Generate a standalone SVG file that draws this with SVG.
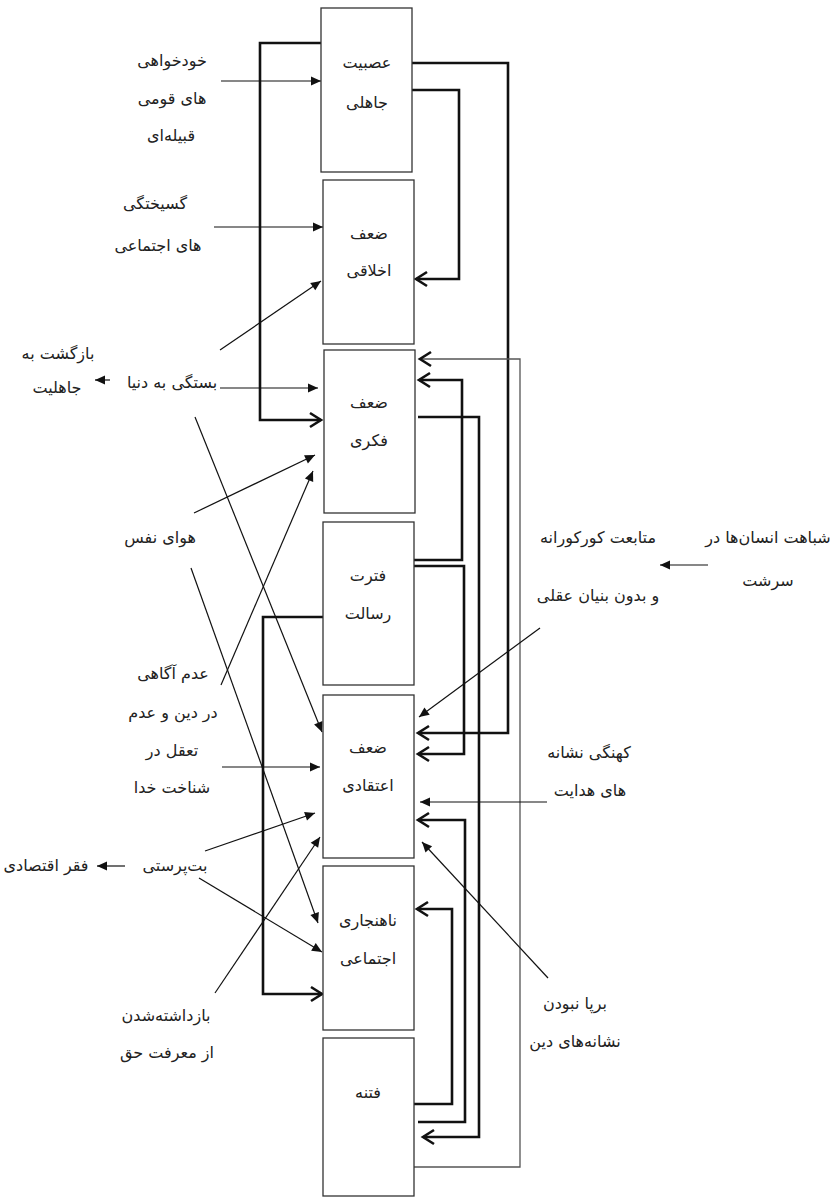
<svg xmlns="http://www.w3.org/2000/svg" width="834" height="1200" viewBox="0 0 834 1200">
<style>
.box{fill:#fff;stroke:#333;stroke-width:1.3}
.t{font-family:"DejaVu Sans",sans-serif;font-size:16px;fill:#222;text-anchor:middle}
.thin{fill:none;stroke:#111;stroke-width:1.2}
.thick{fill:none;stroke:#111;stroke-width:2.6}
.thinr{fill:none;stroke:#555;stroke-width:1.3}
</style>
<defs>
<marker id="tri" markerUnits="userSpaceOnUse" markerWidth="11" markerHeight="9" refX="10" refY="4.5" orient="auto" overflow="visible">
<path d="M0,0 L10,4.5 L0,9 z" fill="#111"/>
</marker>
<marker id="chev" markerUnits="userSpaceOnUse" markerWidth="12" markerHeight="14" refX="11" refY="7" orient="auto" overflow="visible">
<path d="M0,0 L11,7 L0,14" fill="none" stroke="#111" stroke-width="2.6"/>
</marker>
</defs>
<rect width="834" height="1200" fill="#fff"/>

<g id="connectors">
<path class="thick" d="M321,43 H260 V420 H321" marker-end="url(#chev)"/>
<path class="thick" d="M412,63 H508 V733 H418" marker-end="url(#chev)"/>
<path class="thick" d="M412,90 H459 V279 H416" marker-end="url(#chev)"/>
<path class="thick" d="M414,560 H462 V380 H419" marker-end="url(#chev)"/>
<path class="thick" d="M414,566 H464 V754 H418" marker-end="url(#chev)"/>
<path class="thick" d="M418,417 H479 V1137 H423" marker-end="url(#chev)"/>
<path class="thick" d="M418,1122 H465 V820 H418" marker-end="url(#chev)"/>
<path class="thick" d="M414,1104 H452 V909 H417" marker-end="url(#chev)"/>
<path class="thick" d="M323,617 H263 V994 H322" marker-end="url(#chev)"/>
<path class="thinr" d="M414,1167 H520 V359 H420" marker-end="url(#chev)"/>
<line class="thin" x1="221" y1="81" x2="321" y2="81" marker-end="url(#tri)"/>
<line class="thin" x1="214" y1="227" x2="323" y2="227" marker-end="url(#tri)"/>
<line class="thin" x1="220" y1="350" x2="321" y2="281" marker-end="url(#tri)"/>
<line class="thin" x1="220" y1="388" x2="318" y2="388" marker-end="url(#tri)"/>
<line class="thin" x1="110" y1="380" x2="95" y2="380" marker-end="url(#tri)"/>
<line class="thin" x1="195" y1="417" x2="322" y2="732" marker-end="url(#tri)"/>
<line class="thin" x1="194" y1="513" x2="315" y2="455" marker-end="url(#tri)"/>
<line class="thin" x1="191" y1="568" x2="318" y2="923" marker-end="url(#tri)"/>
<line class="thin" x1="221" y1="685" x2="313" y2="471" marker-end="url(#tri)"/>
<line class="thin" x1="222" y1="767" x2="320" y2="767" marker-end="url(#tri)"/>
<line class="thin" x1="125" y1="866" x2="97" y2="866" marker-end="url(#tri)"/>
<line class="thin" x1="205" y1="851" x2="315" y2="813" marker-end="url(#tri)"/>
<line class="thin" x1="199" y1="878" x2="322" y2="952" marker-end="url(#tri)"/>
<line class="thin" x1="215" y1="993" x2="320" y2="837" marker-end="url(#tri)"/>
<line class="thin" x1="708" y1="565" x2="660" y2="565" marker-end="url(#tri)"/>
<line class="thin" x1="540" y1="628" x2="419" y2="717" marker-end="url(#tri)"/>
<line class="thin" x1="547" y1="802" x2="420" y2="802" marker-end="url(#tri)"/>
<line class="thin" x1="548" y1="978" x2="422" y2="842" marker-end="url(#tri)"/>
</g>

<g id="n1"><rect class="box" x="321" y="8" width="91" height="164"/><text class="t" x="367" y="68">عصبیت</text><text class="t" x="367" y="108">جاهلی</text></g>
<g id="n2"><rect class="box" x="323" y="180" width="91" height="164"/><text class="t" x="369" y="239">ضعف</text><text class="t" x="369" y="276">اخلاقی</text></g>
<g id="n3"><rect class="box" x="324" y="350" width="91" height="163"/><text class="t" x="369" y="408">ضعف</text><text class="t" x="369" y="446">فکری</text></g>
<g id="n4"><rect class="box" x="323" y="522" width="91" height="163"/><text class="t" x="368" y="581">فترت</text><text class="t" x="368" y="619">رسالت</text></g>
<g id="n5"><rect class="box" x="323" y="695" width="91" height="163"/><text class="t" x="368" y="753">ضعف</text><text class="t" x="368" y="791">اعتقادی</text></g>
<g id="n6"><rect class="box" x="323" y="866" width="91" height="164"/><text class="t" x="368" y="926">ناهنجاری</text><text class="t" x="368" y="964">اجتماعی</text></g>
<g id="n7"><rect class="box" x="323" y="1038" width="91" height="158"/><text class="t" x="368" y="1098">فتنه</text></g>

<g id="l1"><text class="t" x="172" y="66">خودخواهی</text><text class="t" x="172" y="104">های قومی</text><text class="t" x="171" y="141">قبیله‌ای</text></g>
<g id="l2"><text class="t" x="155" y="209">گسیختگی</text><text class="t" x="158" y="251">های اجتماعی</text></g>
<g id="l3"><text class="t" x="58" y="359">بازگشت به</text><text class="t" x="57" y="393">جاهلیت</text></g>
<g id="l4"><text class="t" x="172" y="388">بستگی به دنیا</text></g>
<g id="l5"><text class="t" x="160" y="543">هوای نفس</text></g>
<g id="l6"><text class="t" x="173" y="679">عدم آگاهی</text><text class="t" x="173" y="718">در دین و عدم</text><text class="t" x="172" y="756">تعقل در</text><text class="t" x="172" y="793">شناخت خدا</text></g>
<g id="l7"><text class="t" x="175" y="871">بت‌پرستی</text></g>
<g id="l8"><text class="t" x="46" y="871">فقر اقتصادی</text></g>
<g id="l9"><text class="t" x="166" y="1021">بازداشته‌شدن</text><text class="t" x="167" y="1058">از معرفت حق</text></g>
<g id="r1"><text class="t" x="598" y="543">متابعت کورکورانه</text><text class="t" x="598" y="601">و بدون بنیان عقلی</text></g>
<g id="r2"><text class="t" x="768" y="543">شباهت انسان‌ها در</text><text class="t" x="768" y="586">سرشت</text></g>
<g id="r3"><text class="t" x="589" y="758">کهنگی نشانه</text><text class="t" x="590" y="796">های هدایت</text></g>
<g id="r4"><text class="t" x="575" y="1009">برپا نبودن</text><text class="t" x="575" y="1047">نشانه‌های دین</text></g>
</svg>
